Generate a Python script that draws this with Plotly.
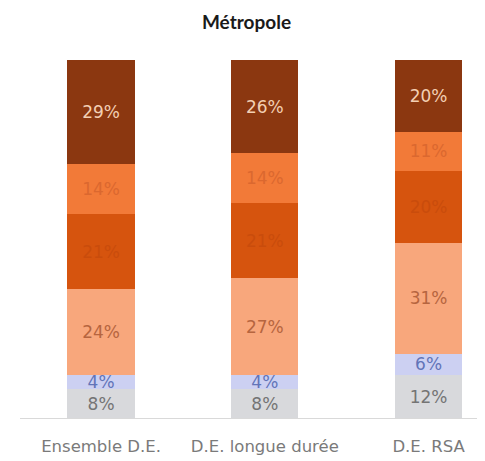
import plotly.graph_objects as go

categories = ["Ensemble D.E.", "D.E. longue durée", "D.E. RSA"]

# stacked from bottom to top
grey_vals = [8, 8, 12]
lavender_vals = [4, 4, 6]
salmon_vals = [24, 27, 31]
darkorange_vals = [21, 21, 20]
orange_vals = [14, 14, 11]
brown_vals = [29, 26, 20]

series = [
    ("gris", grey_vals, "#d8d9dc", "#747474"),
    ("lavande", lavender_vals, "#ccd0f2", "#6274b8"),
    ("saumon", salmon_vals, "#f8a77c", "#b6653f"),
    ("orange foncé", darkorange_vals, "#d6540e", "#c94c0c"),
    ("orange", orange_vals, "#f27a38", "#db682f"),
    ("brun", brown_vals, "#8b3710", "#f3cfb3"),
]

fig = go.Figure()
for name, vals, color, tcolor in series:
    fig.add_trace(go.Bar(
        x=categories,
        y=vals,
        name=name,
        marker={"color": color, "line": {"width": 0}},
        text=[f"{v}%" for v in vals],
        textposition="inside",
        insidetextanchor="middle",
        constraintext="none",
        textfont={"size": 17, "family": "DejaVu Sans", "color": tcolor},
        width=0.41,
    ))

# the page body has an 8px margin, so the figure is sized to fit inside it
fig.update_layout(
    barmode="stack",
    title={
        "text": "<b>Métropole</b>",
        "x": 0.5,
        "xanchor": "center",
        "y": 0.969,
        "yanchor": "middle",
        "font": {"size": 19, "family": "Lato", "color": "#1a1a1a"},
    },
    xaxis={
        "range": [-0.495, 2.314],
        "showline": True,
        "linecolor": "#d9d9d9",
        "linewidth": 1,
        "ticks": "",
        "ticklabelstandoff": 13,
        "tickfont": {"size": 16.5, "family": "DejaVu Sans", "color": "#7a7a7a"},
        "fixedrange": True,
    },
    yaxis={"range": [0, 100], "visible": False, "showgrid": False},
    showlegend=False,
    paper_bgcolor="#ffffff",
    plot_bgcolor="#ffffff",
    width=477,
    height=453,
    margin={"l": 12, "r": 5, "t": 52, "b": 38},
)

fig.write_html("out.html")
